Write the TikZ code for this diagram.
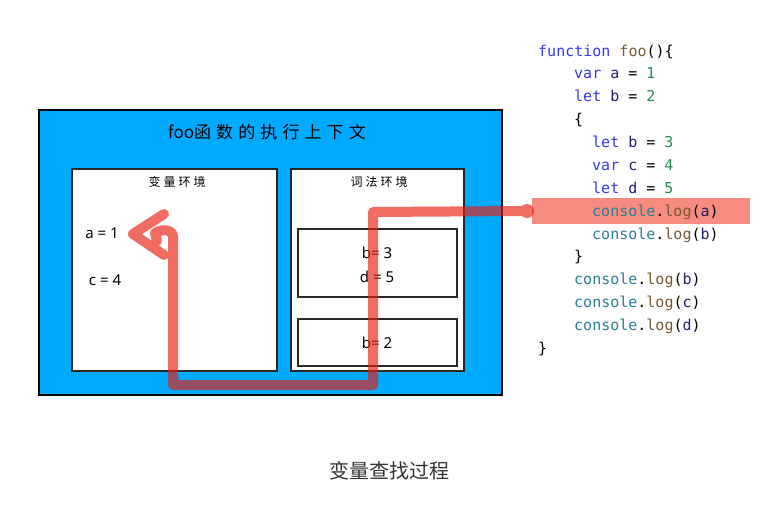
\documentclass[tikz,border=0pt]{standalone}
\usepackage{fontspec}
\setmainfont{Noto Sans}
\setmonofont{DejaVu Sans Mono}
\newfontfamily\cjk{Noto Sans CJK SC}
\newfontfamily\cjktitle[LetterSpace=30]{Noto Sans CJK SC}
\newfontfamily\cjklabel[LetterSpace=25]{Noto Sans CJK SC}
\definecolor{ctxblue}{RGB}{0,170,255}
\definecolor{trace}{RGB}{232,30,15}
\definecolor{hilite}{RGB}{246,140,128}
\definecolor{kw}{RGB}{52,58,228}
\definecolor{idn}{RGB}{32,32,112}
\definecolor{num}{RGB}{34,140,80}
\definecolor{fnc}{RGB}{122,88,52}
\definecolor{obj}{RGB}{40,128,150}
\definecolor{capc}{RGB}{51,51,51}
\definecolor{boxline}{RGB}{40,40,40}
\tikzset{
  envbox/.style={draw=boxline, line width=1.3pt, fill=white},
  valtext/.style={font=\fontsize{15}{17}\selectfont, text=black, inner sep=0pt},
  envlabel/.style={font=\cjklabel\fontsize{12}{14}\selectfont, inner sep=0pt},
  codeline/.style={anchor=mid west, inner sep=0pt, font=\ttfamily\fontsize{15}{17}\selectfont},
}
\newcommand{\K}[1]{\textcolor{kw}{#1}}
\newcommand{\I}[1]{\textcolor{idn}{#1}}
\newcommand{\N}[1]{\textcolor{num}{#1}}
\newcommand{\F}[1]{\textcolor{fnc}{#1}}
\newcommand{\C}[1]{\textcolor{obj}{#1}}
\begin{document}
\begin{tikzpicture}[x=1pt,y=-1pt]
\useasboundingbox (0,0) rectangle (770,505);
% outer context box
\draw[fill=ctxblue, draw=black, line width=2.4pt] (39,110) rectangle (502,395);
\node[inner sep=0pt, anchor=west] (title) at (168,132) {\cjk\fontsize{17}{20}\selectfont foo\cjktitle 函数的执行上下文};
% variable environment
\draw[envbox] (72,169) rectangle (277,371);
\node[envlabel] (varlab) at (177,182) {变量环境};
\node[valtext] (va) at (102,233) {a = 1};
\node[valtext] (vc) at (105,280) {c = 4};
% lexical environment
\draw[envbox] (291,169) rectangle (464,371);
\node[envlabel] (lexlab) at (379,182) {词法环境};
\draw[envbox] (298,229) rectangle (457,297);
\draw[envbox] (298,319) rectangle (457,366);
\node[valtext] (vb3) at (377,253) {b= 3};
\node[valtext] (vd) at (377,277) {d = 5};
\node[valtext] (vb2) at (377,343) {b= 2};
% code highlight
\fill[hilite] (532,198) rectangle (750,224);
% code
\begin{scope}[yshift=-3pt]
\node[codeline] (l1) at (538,50.7) {\K{function} \F{foo}()\{};
\node[codeline] (l2) at (574,73.3) {\K{var} \I{a} = \N{1}};
\node[codeline] (l3) at (574,96) {\K{let} \I{b} = \N{2}};
\node[codeline] (l4) at (574,119) {\{};
\node[codeline] (l5) at (592,142) {\K{let} \I{b} = \N{3}};
\node[codeline] (l6) at (592,165) {\K{var} \I{c} = \N{4}};
\node[codeline] (l7) at (592,187.5) {\K{let} \I{d} = \N{5}};
\node[codeline] (l8) at (592,211) {\C{console}.\F{log}(\I{a})};
\node[codeline] (l9) at (592,233.5) {\C{console}.\F{log}(\I{b})};
\node[codeline] (l10) at (574,256) {\}};
\node[codeline] (l11) at (574,279) {\C{console}.\F{log}(\I{b})};
\node[codeline] (l12) at (574,302) {\C{console}.\F{log}(\I{c})};
\node[codeline] (l13) at (574,325) {\C{console}.\F{log}(\I{d})};
\node[codeline] (l14) at (538,348) {\}};
\end{scope}
% lookup trace
\coordinate (start) at (527,211);
\coordinate (c1) at (373,212);
\coordinate (c2) at (373,385);
\coordinate (c3) at (173,385);
\coordinate (c4) at (173,236);
\coordinate (hk) at (155,233);
\coordinate (hk2) at (157,241);
\coordinate (tipu) at (164,214);
\coordinate (tip) at (133,234);
\coordinate (tipd) at (164,255);
\begin{scope}[transparency group, opacity=0.65]
\draw[trace, line width=10pt, line cap=round, line join=round]
  (start) -- (c1) -- (c2) -- (c3) -- (c4)
  .. controls (172,229) and (161,229) .. (hk) -- (hk2)
  (tipu) -- (tip) -- (tipd);
\fill[trace] (start) circle (7);
\end{scope}
% caption
\node[font=\cjk\fontsize{20}{24}\selectfont, text=capc, inner sep=0pt] (cap) at (389,471) {变量查找过程};
\end{tikzpicture}
\end{document}
